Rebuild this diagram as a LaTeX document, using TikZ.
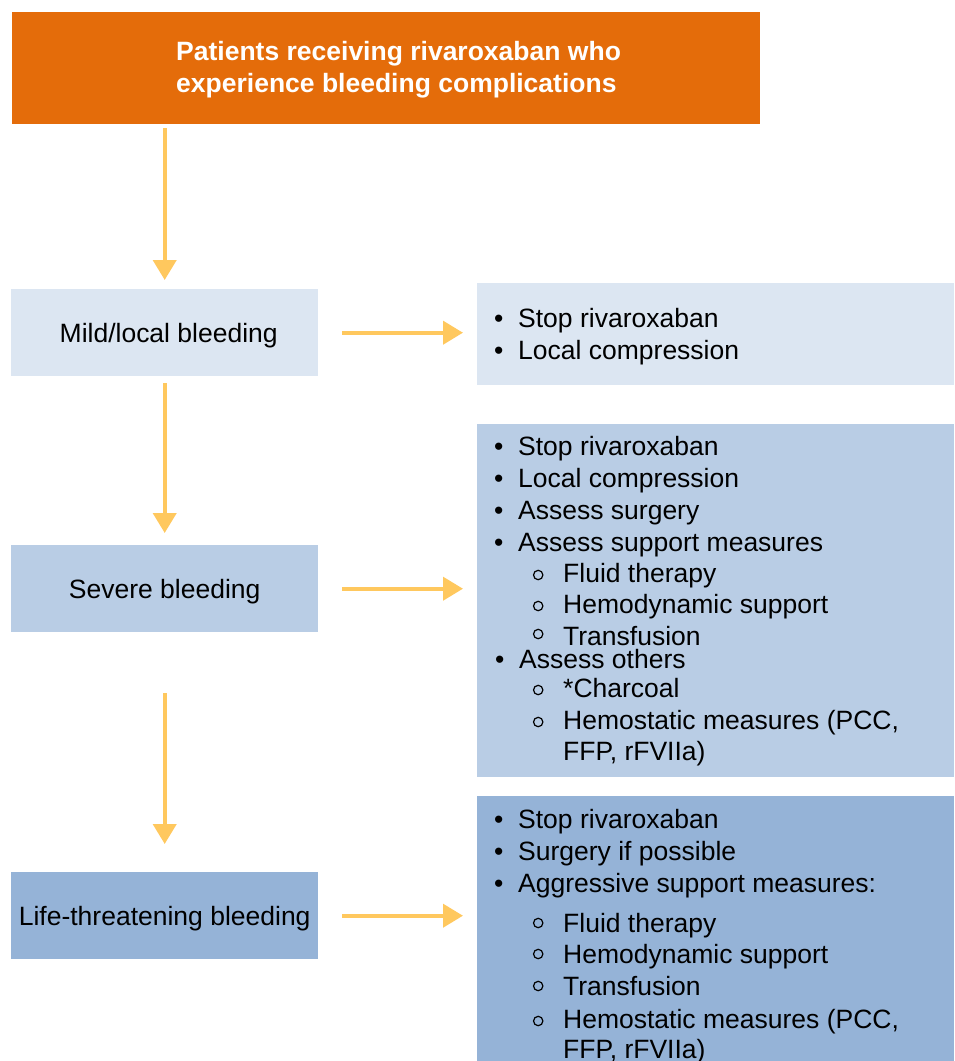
\documentclass[tikz,border=0pt]{standalone}
\usepackage{fontspec}
\setmainfont{Liberation Sans}
\usetikzlibrary{arrows.meta}
\definecolor{orangebox}{HTML}{E46C0A}
\definecolor{lightbox}{HTML}{DCE6F2}
\definecolor{midbox}{HTML}{B9CDE5}
\definecolor{darkbox}{HTML}{95B3D7}
\definecolor{arrowcol}{HTML}{FFC85E}
\newcommand\fsz{\fontsize{26.5}{32}\selectfont}
\newcommand\bitem[1]{\makebox[24pt][l]{\textbullet}#1}
\newcommand\opencirc[1][0pt]{\tikz[baseline=0pt]{\path (0pt,0pt) (16pt,0pt); \draw[line width=1.2pt, black] (8pt,7pt+#1) circle[radius=4.7pt];}}
\newcommand\citem[2][0pt]{\makebox[33pt][l]{\opencirc[#1]}#2}
\tikzset{
  panel/.style={rectangle, draw=none, inner sep=0pt, anchor=north west},
  levelbox/.style={panel, minimum width=307pt, minimum height=87pt, text height=19pt, text depth=0pt, font=\fsz, text=black},
  line/.style={anchor=base west, inner sep=0pt, font=\fsz, text=black},
  titleline/.style={anchor=base west, inner sep=0pt, font=\fsz\bfseries, text=white},
  arr/.style={draw=arrowcol, line width=4pt, -{Triangle[length=20pt,width=23pt]}}
}
\begin{document}
\begin{tikzpicture}[x=1pt,y=-1pt]
\useasboundingbox (0,0) rectangle (954,1061);
\fill[white] (0,0) rectangle (954,1061);
% top box
\node[panel, fill=orangebox, minimum width=748pt, minimum height=112pt] (top) at (12,12) {};
\node[titleline] (t1) at (176,60) {Patients receiving rivaroxaban who};
\node[titleline] (t2) at (176,92) {experience bleeding complications};
% level boxes
\node[levelbox, fill=lightbox] (mild) at (11,289) {\hspace*{8pt}Mild/local bleeding};
\node[levelbox, fill=midbox] (severe) at (11,545) {Severe bleeding};
\node[levelbox, fill=darkbox] (life) at (11,872) {Life-threatening bleeding};
% right panels
\node[panel, fill=lightbox, minimum width=477pt, minimum height=102pt] (r1) at (477,283) {};
\node[panel, fill=midbox, minimum width=477pt, minimum height=353pt] (r2) at (477,424) {};
\node[panel, fill=darkbox, minimum width=477pt, minimum height=265pt] (r3) at (477,796) {};
% panel 1 text
\node[line] (r1a) at (494,327) {\bitem{Stop rivaroxaban}};
\node[line] (r1b) at (494,359) {\bitem{Local compression}};
% panel 2 text
\node[line] (r2a) at (494,455) {\bitem{Stop rivaroxaban}};
\node[line] (r2b) at (494,487) {\bitem{Local compression}};
\node[line] (r2c) at (494,519) {\bitem{Assess surgery}};
\node[line] (r2d) at (494,551) {\bitem{Assess support measures}};
\node[line] (r2e) at (530,582) {\citem{Fluid therapy}};
\node[line] (r2f) at (530,613) {\citem{Hemodynamic support}};
\node[line] (r2g) at (530,645) {\citem[4pt]{Transfusion}};
\node[line] (r2h) at (495,668) {\bitem{Assess others}};
\node[line] (r2i) at (530,697) {\citem{*Charcoal}};
\node[line] (r2j) at (530,729) {\citem{Hemostatic measures (PCC,}};
\node[line] (r2k) at (563,760) {FFP, rFVIIa)};
% panel 3 text
\node[line] (r3a) at (494,828) {\bitem{Stop rivaroxaban}};
\node[line] (r3b) at (494,860) {\bitem{Surgery if possible}};
\node[line] (r3c) at (494,892) {\bitem{Aggressive support measures:}};
\node[line] (r3d) at (530,932) {\citem[2pt]{Fluid therapy}};
\node[line] (r3e) at (530,963) {\citem[2pt]{Hemodynamic support}};
\node[line] (r3f) at (530,995) {\citem[2pt]{Transfusion}};
\node[line] (r3g) at (530,1028) {\citem{Hemostatic measures (PCC,}};
\node[line] (r3h) at (563,1058) {FFP, rFVIIa)};
% vertical arrows
\draw[arr, shorten <=4pt, shorten >=9pt] (mild.north |- top.south) -- (mild.north);
\draw[arr, shorten <=7pt, shorten >=12pt] (mild.south) -- (severe.north);
\draw[arr, shorten <=61pt, shorten >=28pt] (severe.south) -- (life.north);
% horizontal arrows
\draw[arr, shorten <=24pt, shorten >=14pt] (mild.east) -- (mild.east -| r1.west);
\draw[arr, shorten <=24pt, shorten >=14pt] (severe.east) -- (severe.east -| r2.west);
\draw[arr, shorten <=24pt, shorten >=14pt] (life.east) -- (life.east -| r3.west);
\end{tikzpicture}
\end{document}
